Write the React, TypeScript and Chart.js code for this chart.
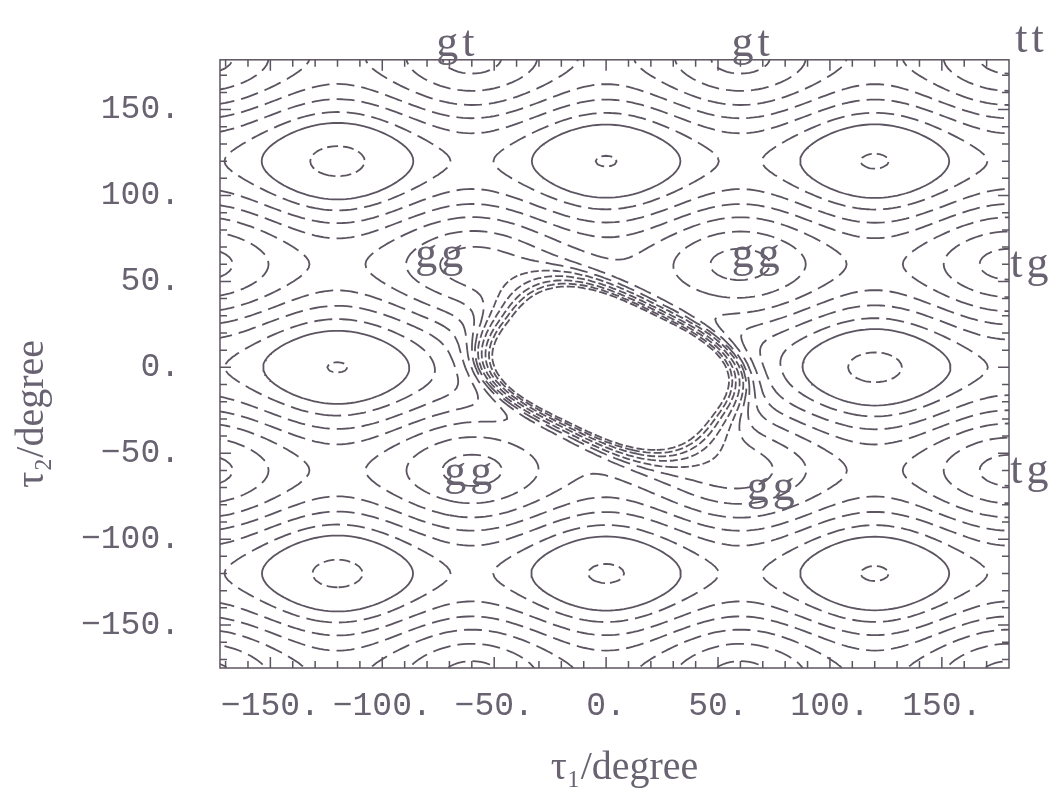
import React, { useEffect, useRef } from "react";
import { Chart, registerables } from "chart.js";

Chart.register(...registerables);

// ---------------- axes ----------------
const X_MIN = -172.5;
const X_MAX = 180;
const Y_MIN = -175;
const Y_MAX = 179;
const X_TICKS = [-150, -100, -50, 0, 50, 100, 150];
const Y_TICKS = [-150, -100, -50, 0, 50, 100, 150];
const FRAME_TICK_STEP = 10;
const X_TITLE = "\u2002\u03c4\u2081/degree";
const Y_TITLE = "\u03c4\u2082/degree" + "\u2002\u2002\u2002\u2002\u2002";

// ---------------- torsional surface (relative units) ----------------
const TAU1_THREEFOLD = 0.48; // -A cos 3 tau1
const TAU2_THREEFOLD = 1.0; // -B cos 3 tau2

// wells whose bottom is a little deeper than the periodic pattern
const WELL_TAU1 = [-120, 0, 120, -120, 120, -120, 0, 120];
const WELL_TAU2 = [120, 120, 120, 0, 0, -120, -120, -120];
const WELL_SHIFT = [-0.1, 0, -0.012, 0, -0.1, -0.08, -0.03, -0.012];
const WELL_WIDTH = 18;

// steric wall round the origin
const WALL_TAU1 = 2;
const WALL_TAU2 = -0.5;
const WALL_ANGLE = -32;
const WALL_MAJOR = 52;
const WALL_MINOR = 36;
const WALL_SHAPE = 3.0;
const WALL_HEIGHT = 8;
const WALL_POWER = 10;

// contour levels above the bottom of the wells
const LEVELS = [0.015, 0.56, 0.9, 1.3, 1.7, 2.1, 2.5, 2.85, 3.3, 4.0, 5.0, 6.3, 8.0];
const SOLID_LEVEL = 1;
const LAST_OPEN_LEVEL = 7;

// conformer labels
const LABEL_TEXT = ["gt", "gt", "tt", "gg", "gg", "gg", "gg", "tg", "tg"];
const LABEL_TAU1 = [-66.5, 65.5, 190, -73.6, 67.7, -60.7, 74.4, 190, 190];
const LABEL_TAU2 = [188, 188, 190, 65.3, 65.3, -61.8, -70.5, 59.5, -60.6];

// ---------------- styles ----------------
const LINE_COLOR = "#5c5460";
const TEXT_COLOR = "#696270";
const MONO = "'Liberation Mono', 'DejaVu Sans Mono', monospace";
const SERIF = "'Liberation Serif', 'DejaVu Serif', serif";

function dashFor(k: number): number[] {
  if (k === 0) return [11, 5];
  if (k === SOLID_LEVEL) return [];
  if (k <= LAST_OPEN_LEVEL) return [18, 7];
  return [8, 3];
}

const RAD = Math.PI / 180;
function wrap(d: number) {
  return ((((d + 180) % 360) + 360) % 360) - 180;
}

function energy(a: number, b: number) {
  let v = -TAU1_THREEFOLD * Math.cos(3 * a * RAD) - TAU2_THREEFOLD * Math.cos(3 * b * RAD);
  for (let k = 0; k < WELL_TAU1.length; k++) {
    const dx = wrap(a - WELL_TAU1[k]);
    const dy = wrap(b - WELL_TAU2[k]);
    v += WELL_SHIFT[k] * Math.exp(-(dx * dx + dy * dy) / (2 * WELL_WIDTH * WELL_WIDTH));
  }
  const da = a - WALL_TAU1;
  const db = b - WALL_TAU2;
  const t = WALL_ANGLE * RAD;
  const p = da * Math.cos(t) + db * Math.sin(t);
  const s = -da * Math.sin(t) + db * Math.cos(t);
  const q = Math.pow(
    Math.pow(Math.abs(p / WALL_MAJOR), WALL_SHAPE) + Math.pow(Math.abs(s / WALL_MINOR), WALL_SHAPE),
    1 / WALL_SHAPE
  );
  v += WALL_HEIGHT * Math.pow(Math.max(q, 0.3), -WALL_POWER);
  return v;
}

type P = { x: number; y: number };

function traceLevel(vals: Float64Array, xs: number[], ys: number[], L: number): P[][] {
  const nx = xs.length;
  const ny = ys.length;
  const pt = new Map<number, P>();
  const adj = new Map<number, number[]>();
  const V = (i: number, j: number) => vals[j * nx + i];
  const hp = (i: number, j: number) => {
    const id = (j * nx + i) * 2;
    if (!pt.has(id)) {
      const v0 = V(i, j), v1 = V(i + 1, j);
      const t = (L - v0) / (v1 - v0);
      pt.set(id, { x: xs[i] + t * (xs[i + 1] - xs[i]), y: ys[j] });
    }
    return id;
  };
  const vp = (i: number, j: number) => {
    const id = (j * nx + i) * 2 + 1;
    if (!pt.has(id)) {
      const v0 = V(i, j), v1 = V(i, j + 1);
      const t = (L - v0) / (v1 - v0);
      pt.set(id, { x: xs[i], y: ys[j] + t * (ys[j + 1] - ys[j]) });
    }
    return id;
  };
  const link = (a: number, b: number) => {
    if (!adj.has(a)) adj.set(a, []);
    if (!adj.has(b)) adj.set(b, []);
    adj.get(a)!.push(b);
    adj.get(b)!.push(a);
  };
  for (let j = 0; j < ny - 1; j++) {
    for (let i = 0; i < nx - 1; i++) {
      const v0 = V(i, j), v1 = V(i + 1, j), v2 = V(i + 1, j + 1), v3 = V(i, j + 1);
      const c = (v0 > L ? 1 : 0) | (v1 > L ? 2 : 0) | (v2 > L ? 4 : 0) | (v3 > L ? 8 : 0);
      if (c === 0 || c === 15) continue;
      const B = () => hp(i, j);
      const R = () => vp(i + 1, j);
      const T = () => hp(i, j + 1);
      const Lf = () => vp(i, j);
      const m = (v0 + v1 + v2 + v3) / 4;
      switch (c) {
        case 1: case 14: link(Lf(), B()); break;
        case 2: case 13: link(B(), R()); break;
        case 3: case 12: link(Lf(), R()); break;
        case 4: case 11: link(R(), T()); break;
        case 6: case 9: link(B(), T()); break;
        case 7: case 8: link(Lf(), T()); break;
        case 5:
          if (m > L) { link(Lf(), T()); link(B(), R()); } else { link(Lf(), B()); link(T(), R()); }
          break;
        case 10:
          if (m > L) { link(Lf(), B()); link(R(), T()); } else { link(B(), R()); link(Lf(), T()); }
          break;
      }
    }
  }
  const visited = new Set<number>();
  const lines: P[][] = [];
  const walk = (start: number) => {
    const ids = [start];
    visited.add(start);
    let cur = start;
    for (;;) {
      const nb = adj.get(cur)!;
      let next = -1;
      for (const n of nb) if (!visited.has(n)) { next = n; break; }
      if (next < 0) {
        if (ids.length > 2 && nb.includes(start)) ids.push(start);
        break;
      }
      visited.add(next);
      ids.push(next);
      cur = next;
    }
    return ids.map((id) => pt.get(id)!);
  };
  for (const [id, nb] of adj) if (nb.length === 1 && !visited.has(id)) lines.push(walk(id));
  for (const id of adj.keys()) if (!visited.has(id)) lines.push(walk(id));
  return lines;
}

function buildDatasets() {
  const xs: number[] = [];
  const ys: number[] = [];
  for (let v = -186; v <= 186; v += 2) { xs.push(v); ys.push(v); }
  const vals = new Float64Array(xs.length * ys.length);
  for (let j = 0; j < ys.length; j++)
    for (let i = 0; i < xs.length; i++) vals[j * xs.length + i] = energy(xs[i], ys[j]);
  const base = -TAU1_THREEFOLD - TAU2_THREEFOLD;
  const datasets: any[] = [];
  LEVELS.forEach((lv, k) => {
    const lines = traceLevel(vals, xs, ys, base + lv);
    for (const line of lines) {
      if (line.length < 2) continue;
      datasets.push({
        data: line,
        showLine: true,
        pointRadius: 0,
        pointHoverRadius: 0,
        borderColor: LINE_COLOR,
        borderWidth: 1.8,
        borderDash: dashFor(k),
        fill: false,
        tension: 0,
        clip: 0,
        parsing: false,
      });
    }
  });
  return datasets;
}

const framePlugin = {
  id: "frame",
  afterDatasetsDraw(chart: any) {
    const { ctx, chartArea } = chart;
    const { left, right, top, bottom } = chartArea;
    const xs = chart.scales.x;
    const ys = chart.scales.y;
    ctx.save();
    ctx.strokeStyle = LINE_COLOR;
    ctx.lineWidth = 1.5;
    ctx.setLineDash([]);
    ctx.strokeRect(left, top, right - left, bottom - top);
    ctx.beginPath();
    for (let v = Math.ceil(X_MIN / FRAME_TICK_STEP) * FRAME_TICK_STEP; v < X_MAX; v += FRAME_TICK_STEP) {
      const px = xs.getPixelForValue(v);
      const len = v % 50 === 0 ? 11 : 7;
      ctx.moveTo(px, bottom); ctx.lineTo(px, bottom - len);
      ctx.moveTo(px, top); ctx.lineTo(px, top + len);
    }
    for (let v = Math.ceil(Y_MIN / FRAME_TICK_STEP) * FRAME_TICK_STEP; v < Y_MAX; v += FRAME_TICK_STEP) {
      const py = ys.getPixelForValue(v);
      const len = v % 50 === 0 ? 11 : 7;
      ctx.moveTo(left, py); ctx.lineTo(left + len, py);
      ctx.moveTo(right, py); ctx.lineTo(right - len, py);
    }
    ctx.stroke();
    ctx.restore();
  },
};

const labelPlugin = {
  id: "conformerLabels",
  afterDraw(chart: any) {
    const { ctx } = chart;
    const xs = chart.scales.x;
    const ys = chart.scales.y;
    ctx.save();
    ctx.fillStyle = TEXT_COLOR;
    ctx.font = `44px ${SERIF}`;
    ctx.textAlign = "center";
    ctx.textBaseline = "middle";
    try { (ctx as any).letterSpacing = "4px"; } catch (e) {}
    LABEL_TEXT.forEach((t, k) => {
      ctx.fillText(t, xs.getPixelForValue(LABEL_TAU1[k]), ys.getPixelForValue(LABEL_TAU2[k]));
    });
    ctx.restore();
  },
};

function fmt(v: number) {
  return (v < 0 ? "\u2212" : "") + Math.abs(v) + ".";
}

export default function App() {
  const ref = useRef<HTMLCanvasElement>(null);
  useEffect(() => {
    const canvas = ref.current!;
    const chart = new Chart(canvas, {
      type: "scatter",
      data: { datasets: buildDatasets() },
      options: {
        animation: false,
        responsive: false,
        events: [],
        layout: { padding: { left: 0, right: 51, top: 55, bottom: 0 } },
        plugins: { legend: { display: false }, tooltip: { enabled: false } },
        scales: {
          x: {
            type: "linear",
            min: X_MIN,
            max: X_MAX,
            afterBuildTicks: (s: any) => { s.ticks = X_TICKS.map((v) => ({ value: v })); },
            afterFit: (s: any) => { s.height = 128; },
            grid: { display: false, drawTicks: false },
            border: { display: false },
            ticks: {
              callback: (v: any) => fmt(Number(v)),
              font: { family: MONO, size: 33 },
              color: TEXT_COLOR,
              padding: 18,
              maxRotation: 0,
              minRotation: 0,
              autoSkip: false,
            },
            title: {
              display: true,
              text: X_TITLE,
              font: { family: SERIF, size: 40 },
              color: TEXT_COLOR,
              padding: { top: 0, bottom: 4 },
            },
          },
          y: {
            type: "linear",
            min: Y_MIN,
            max: Y_MAX,
            afterBuildTicks: (s: any) => { s.ticks = Y_TICKS.map((v) => ({ value: v })); },
            afterFit: (s: any) => { s.width = 220; },
            grid: { display: false, drawTicks: false },
            border: { display: false },
            ticks: {
              callback: (v: any) => fmt(Number(v)),
              font: { family: MONO, size: 33 },
              color: TEXT_COLOR,
              padding: 40,
              autoSkip: false,
            },
            title: {
              display: true,
              text: Y_TITLE,
              font: { family: SERIF, size: 40 },
              color: TEXT_COLOR,
              padding: { top: 8, bottom: 0 },
            },
          },
        },
      },
      plugins: [framePlugin, labelPlugin],
    } as any);
    return () => chart.destroy();
  }, []);
  return (
    <div style={{ position: "fixed", left: 0, top: 0, width: 1060, height: 796, background: "#fff" }}>
      <canvas ref={ref} width={1060} height={796} style={{ display: "block", width: 1060, height: 796 }} />
    </div>
  );
}
